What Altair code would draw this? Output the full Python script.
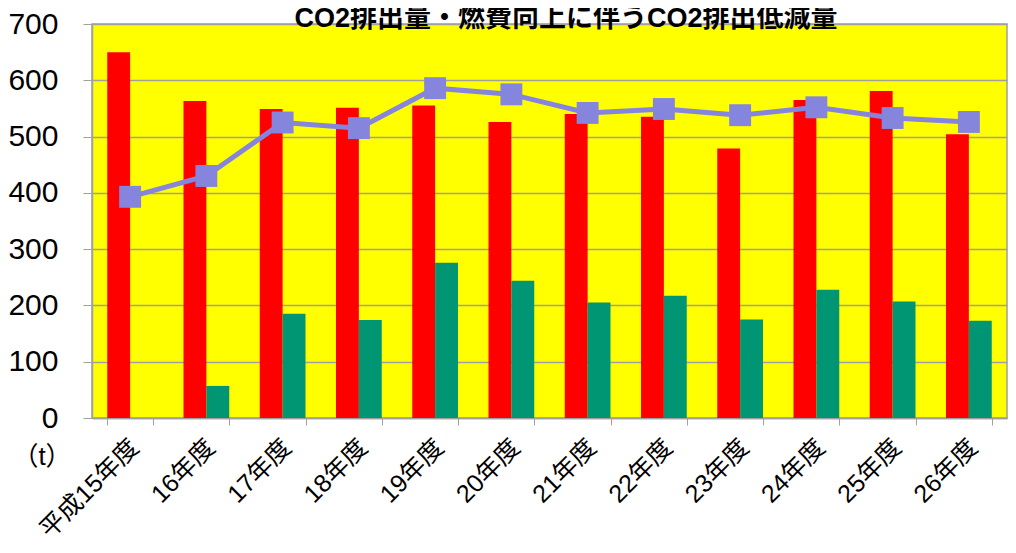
import altair as alt
import pandas as pd

years = ["平成15年度", "16年度", "17年度", "18年度", "19年度", "20年度",
         "21年度", "22年度", "23年度", "24年度", "25年度", "26年度"]
co2_emission = [650, 563, 549, 551, 555, 526, 540, 535, 479, 565, 581, 504]
co2_reduction = [None, 57, 185, 174, 276, 244, 205, 217, 175, 228, 207, 173]
line_values = [393, 430, 525, 515, 586, 575, 542, 549, 538, 552, 533, 526]
series_names = ["CO2排出量", "CO2排出低減量"]
title_text = "CO2排出量・燃費向上に伴うCO2排出低減量"
unit_text = "（t）"

FONT = "Liberation Sans, Noto Sans CJK JP, sans-serif"

rows = []
for y, a, b in zip(years, co2_emission, co2_reduction):
    rows.append({"year": y, "series": series_names[0], "value": a})
    rows.append({"year": y, "series": series_names[1], "value": b})
bars_df = pd.DataFrame(rows)
line_df = pd.DataFrame({"year": years, "value": line_values})

x_enc = alt.X("year:N", sort=years,
              scale=alt.Scale(paddingInner=0.4, paddingOuter=0.2),
              axis=alt.Axis(title=None, labelAngle=-45, labelAlign="right",
                            labelBaseline="middle", labelFontSize=25,
                            labelFont=FONT, labelColor="#000000",
                            labelPadding=18, labelOffset=4,
                            tickBand="extent", tickSize=7, tickColor="#a0a0a0",
                            domainColor="#a0a0a0", domainWidth=1.5, grid=False))
y_scale = alt.Scale(domain=[0, 700], nice=False)

bars = alt.Chart(bars_df).mark_bar().encode(
    x=x_enc,
    xOffset=alt.XOffset("series:N", sort=series_names,
                        scale=alt.Scale(paddingInner=0, paddingOuter=0)),
    y=alt.Y("value:Q", scale=y_scale,
            axis=alt.Axis(title=None, values=[0, 100, 200, 300, 400, 500, 600, 700],
                          labelFontSize=30, labelFont=FONT, labelColor="#000000",
                          labelPadding=25, tickSize=9, tickColor="#a0a0a0",
                          domainColor="#a0a0a0", domainWidth=1.5,
                          gridColor="#a0a0a0", gridWidth=1.5)),
    color=alt.Color("series:N", sort=series_names,
                    scale=alt.Scale(domain=series_names, range=["#ff0000", "#009673"]),
                    legend=None),
)

line = alt.Chart(line_df).mark_line(color="#8585de", strokeWidth=5).encode(
    x=alt.X("year:N", sort=years),
    y=alt.Y("value:Q", scale=y_scale),
)
points = alt.Chart(line_df).mark_point(shape="square", filled=True, size=480,
                                       color="#8585de", opacity=1).encode(
    x=alt.X("year:N", sort=years),
    y=alt.Y("value:Q", scale=y_scale),
)

title_df = pd.DataFrame({"t": [title_text]})
title = alt.Chart(title_df).mark_text(fontSize=27, fontWeight="bold", font=FONT,
                                      align="center", baseline="alphabetic",
                                      color="#000000").encode(
    text="t:N", x=alt.value(474), y=alt.value(3))

unit_df = pd.DataFrame({"t": [unit_text]})
unit = alt.Chart(unit_df).mark_text(fontSize=26, font=FONT, align="center",
                                    baseline="middle", color="#000000").encode(
    text="t:N", x=alt.value(-50), y=alt.value(433))

chart = alt.layer(bars, line, points, title, unit).properties(
    width=915, height=394,
    autosize=alt.AutoSizeParams(type="none"),
    padding={"left": 84, "top": 16, "right": 1, "bottom": 126},
).configure_view(fill="#ffff00", stroke="#a0a0a0", strokeWidth=1.5)

chart.save("out.html", embed_options={"renderer": "svg", "actions": False})
